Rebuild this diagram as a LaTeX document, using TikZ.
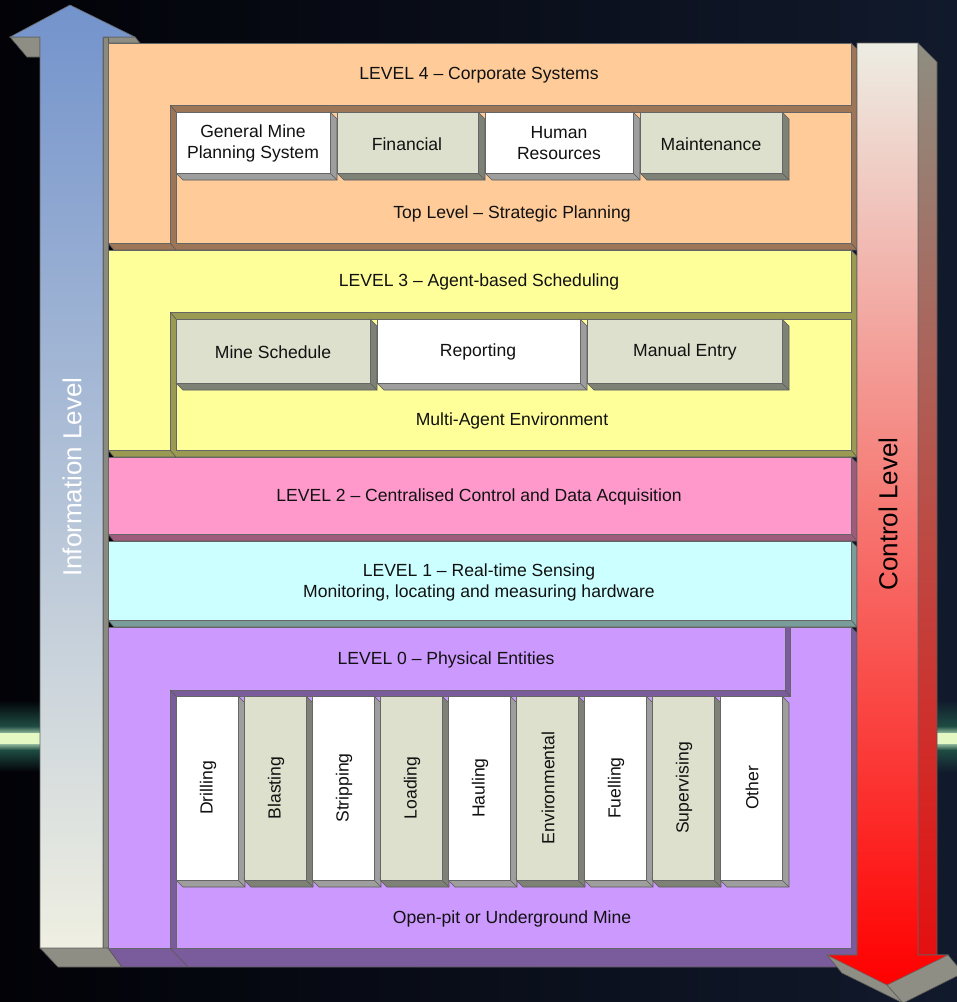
\documentclass[tikz,border=0pt]{standalone}
\usepackage{fontspec}
\setmainfont{Liberation Sans}
\usepackage{tikz}
\usetikzlibrary{positioning}
\definecolor{bgleft}{HTML}{020207}
\definecolor{bgright}{HTML}{111A2C}
\definecolor{glowcore}{HTML}{E4F8C4}
\definecolor{glowmid}{HTML}{8FB89A}
\definecolor{glowhalo}{HTML}{1E4C42}
\definecolor{infotop}{HTML}{7393CC}
\definecolor{infobot}{HTML}{EFEFE2}
\definecolor{infoside}{HTML}{8A8A7E}
\definecolor{ctrltop}{HTML}{EDEDE3}
\definecolor{ctrlbot}{HTML}{FF0000}
\definecolor{ctrlsidetop}{HTML}{8E8E80}
\definecolor{ctrlsidebot}{HTML}{E41010}
\definecolor{headshade}{HTML}{8E8E84}
\definecolor{lfourface}{HTML}{FFCC99}
\definecolor{lfourside}{HTML}{9C7656}
\definecolor{lthreeface}{HTML}{FFFF99}
\definecolor{lthreeside}{HTML}{9A9A52}
\definecolor{ltwoface}{HTML}{FF99CC}
\definecolor{ltwoside}{HTML}{9E5C7C}
\definecolor{loneface}{HTML}{CCFFFF}
\definecolor{loneside}{HTML}{7A9C9A}
\definecolor{lzeroface}{HTML}{CC99FF}
\definecolor{lzeroside}{HTML}{7A5C9C}
\definecolor{boxwhite}{HTML}{FFFFFF}
\definecolor{whiteside}{HTML}{9E9E9E}
\definecolor{boxgreen}{HTML}{DDE0CC}
\definecolor{greenside}{HTML}{7E8276}
\definecolor{txtgray}{HTML}{111111}
\tikzset{
  faceline/.style={draw=black!60, line width=0.35pt},
  bevelline/.style={draw=black!65, line width=0.35pt},
  paneltxt/.style={font=\fontsize{10}{12}\selectfont, text=txtgray, align=center, inner sep=1pt},
  coltxt/.style={paneltxt, rotate=90},
  sidetxt/.style={font=\fontsize{14.8}{17}\selectfont, rotate=90, inner sep=1pt}
}
% raised box: face plus bevel on right and bottom
\newcommand{\liftbox}[6]{%
  \filldraw[bevelline, fill=#6] (#3,#2) -- (#3+7,#2+7) -- (#3+7,#4+7) -- (#1+7,#4+7) -- (#1,#4) -- cycle;
  \draw[bevelline] (#3,#4) -- (#3+7,#4+7);
  \filldraw[faceline, fill=#5] (#1,#2) rectangle (#3,#4);
}
% bevel of a level panel
\newcommand{\panelbevel}[5]{%
  \filldraw[bevelline, fill=#5] (#3,#2) -- (#3+6,#2+6) -- (#3+6,#4+7) -- (#1+6,#4+7) -- (#1,#4) -- cycle;
  \draw[bevelline] (#3,#4) -- (#3+6,#4+7);
}

\begin{document}
\begin{tikzpicture}[x=0.02cm, y=-0.02cm]
  \useasboundingbox (0,0) rectangle (957,1002);
  \shade[left color=bgleft, right color=bgright] (0,0) rectangle (957,1002);
  % glow streak at the edges
  \shade[top color=bgleft, bottom color=glowhalo] (0,700) rectangle (42,726);
  \shade[top color=glowhalo, bottom color=bgleft] (0,750) rectangle (42,772);
  \shade[top color=glowhalo, bottom color=glowmid] (0,726) rectangle (42,733);
  \shade[top color=glowmid, bottom color=glowhalo] (0,744) rectangle (42,750);
  \fill[glowcore] (0,733) rectangle (42,744);
  \shade[top color=bgright, bottom color=glowhalo] (930,700) rectangle (957,726);
  \shade[top color=glowhalo, bottom color=bgright] (930,750) rectangle (957,772);
  \shade[top color=glowhalo, bottom color=glowmid] (930,726) rectangle (957,733);
  \shade[top color=glowmid, bottom color=glowhalo] (930,744) rectangle (957,750);
  \fill[glowcore] (930,733) rectangle (957,744);

  % information level arrow
  \filldraw[bevelline, fill=headshade] (10,37) -- (27,57) -- (40,57) -- (40,37) -- cycle;
  \filldraw[bevelline, fill=headshade] (103,37) -- (135,37) -- (140,43) -- (108,43) -- cycle;
  \filldraw[bevelline, fill=infoside] (103,37) rectangle (108,948);
  \filldraw[bevelline, fill=headshade] (40,948) -- (108,948) -- (122,967) -- (58,967) -- cycle;
  \shade[faceline, top color=infotop, bottom color=infobot]
    (70,5) -- (135,37) -- (103,37) -- (103,948) -- (40,948) -- (40,37) -- (10,37) -- cycle;
  \node[sidetxt, text=white] (info) at (72,477) {Information Level};

  % LEVEL 4
  \panelbevel{108}{43}{851}{243}{lfourside}
  \fill[lfourside] (108,43) rectangle (851,243);
  \filldraw[faceline, fill=lfourface] (108,43) -- (851,43) -- (851,105) -- (170,105) -- (170,243) -- (108,243) -- cycle;
  \filldraw[faceline, fill=lfourface] (176,112) rectangle (851,243);
  \draw[bevelline] (170,105) -- (176,112) (170,243) -- (176,250);
  \node[paneltxt] (lfour) at (479,75) {LEVEL 4 – Corporate Systems};
  \liftbox{176}{112}{330}{173}{boxwhite}{whiteside}
  \liftbox{337}{112}{478}{173}{boxgreen}{greenside}
  \liftbox{485}{112}{633}{173}{boxwhite}{whiteside}
  \liftbox{640}{112}{782}{173}{boxgreen}{greenside}
  \node[paneltxt] (gmps) at (253,143) {General Mine\\Planning System};
  \node[paneltxt] (fin) at (407,144) {Financial};
  \node[paneltxt] (hr) at (559,143) {Human\\Resources};
  \node[paneltxt] (maint) at (711,144) {Maintenance};
  \node[paneltxt] (strat) at (512,214) {Top Level – Strategic Planning};

  % LEVEL 3
  \panelbevel{108}{250}{851}{450}{lthreeside}
  \fill[lthreeside] (108,250) rectangle (851,450);
  \filldraw[faceline, fill=lthreeface] (108,250) -- (851,250) -- (851,312) -- (170,312) -- (170,450) -- (108,450) -- cycle;
  \filldraw[faceline, fill=lthreeface] (176,319) rectangle (851,450);
  \draw[bevelline] (170,312) -- (176,319) (170,450) -- (176,457);
  \node[paneltxt] (lthree) at (479,282) {LEVEL 3 – Agent-based Scheduling};
  \liftbox{176}{319}{370}{383}{boxgreen}{greenside}
  \liftbox{377}{319}{580}{383}{boxwhite}{whiteside}
  \liftbox{587}{319}{782}{383}{boxgreen}{greenside}
  \node[paneltxt] (sched) at (273,352) {Mine Schedule};
  \node[paneltxt] (rep) at (478,352) {Reporting};
  \node[paneltxt] (manual) at (685,352) {Manual Entry};
  \node[paneltxt] (mae) at (512,421) {Multi-Agent Environment};

  % LEVEL 2
  \panelbevel{108}{457}{851}{534}{ltwoside}
  \filldraw[faceline, fill=ltwoface] (108,457) rectangle (851,534);
  \node[paneltxt] (ltwo) at (479,497) {LEVEL 2 – Centralised Control and Data Acquisition};

  % LEVEL 1
  \panelbevel{108}{541}{851}{620}{loneside}
  \filldraw[faceline, fill=loneface] (108,541) rectangle (851,620);
  \node[paneltxt] (lone) at (479,582) {LEVEL 1 – Real-time Sensing\\Monitoring, locating and measuring hardware};

  % LEVEL 0
  \filldraw[bevelline, fill=lzeroside] (851,627) -- (857,633) -- (857,967) -- (122,967) -- (108,948) -- (851,948) -- cycle;
  \fill[lzeroside] (108,627) rectangle (851,948);
  \filldraw[faceline, fill=lzeroface] (108,627) -- (785,627) -- (785,690) -- (170,690) -- (170,948) -- (108,948) -- cycle;
  \filldraw[faceline, fill=lzeroface] (790,627) -- (851,627) -- (851,948) -- (176,948) -- (176,696) -- (790,696) -- cycle;
  \draw[bevelline] (170,690) -- (176,696) (785,690) -- (790,696) (170,948) -- (188,967);
  \node[paneltxt] (lzero) at (446,660) {LEVEL 0 – Physical Entities};
  \foreach \lab/\fc/\sc [count=\i from 0] in {Drilling/boxwhite/whiteside, Blasting/boxgreen/greenside,
      Stripping/boxwhite/whiteside, Loading/boxgreen/greenside, Hauling/boxwhite/whiteside,
      Environmental/boxgreen/greenside, Fuelling/boxwhite/whiteside, Supervising/boxgreen/greenside,
      Other/boxwhite/whiteside}{
    \pgfmathsetmacro{\xa}{176+68*\i}
    \liftbox{\xa}{696}{\xa+62}{880}{\fc}{\sc}
    \node[coltxt] (col\i) at (\xa+32,788) {\lab};
  }
  \node[paneltxt] (mine) at (512,919) {Open-pit or Underground Mine};

  % control level arrow
  \filldraw[bevelline, fill=headshade] (827,955) -- (842,973) -- (903,1003) -- (963,973) -- (948,955) -- cycle;
  \shade[bevelline, top color=ctrlsidetop, bottom color=ctrlsidebot] (918,43) -- (937,62) -- (937,955) -- (918,955) -- cycle;
  \shade[faceline, top color=ctrltop, bottom color=ctrlbot]
    (857,43) -- (918,43) -- (918,955) -- (948,955) -- (887,985) -- (827,955) -- (857,955) -- cycle;
  \draw[bevelline] (887,985) -- (903,1003);
  \node[sidetxt, text=black] (ctrl) at (888,514) {Control Level};
\end{tikzpicture}
\end{document}
